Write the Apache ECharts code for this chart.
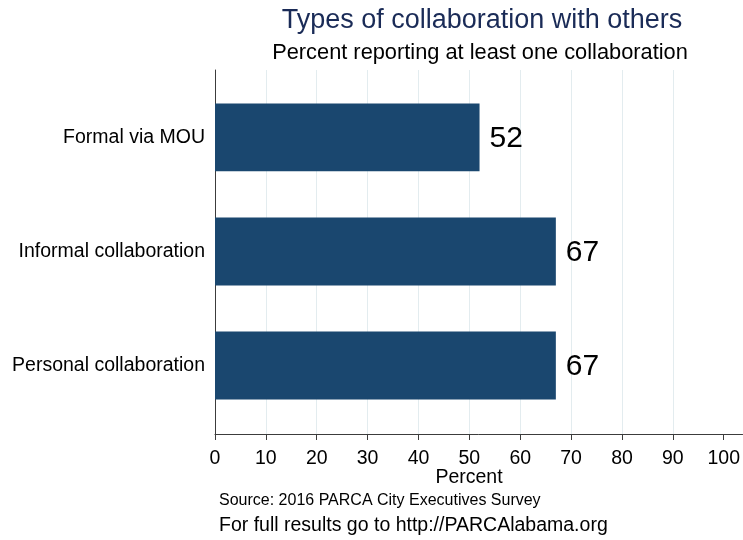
<!DOCTYPE html>
<html>
<head>
<meta charset="utf-8">
<script src="https://cdn.jsdelivr.net/npm/echarts@6/dist/echarts.min.js"></script>
<style>
  html, body { margin: 0; padding: 0; background: #fff; }
  #chart { width: 743px; height: 540px; }
</style>
</head>
<body>
<div id="chart"></div>
<script>
// Collaboration types and the share of respondents reporting each
const categories = ['Formal via MOU', 'Informal collaboration', 'Personal collaboration'];
const percents = [52, 67, 67];
const xTicks = [0, 10, 20, 30, 40, 50, 60, 70, 80, 90, 100];
const categoryPositions = [0, 1, 2];

const FONT = '"Liberation Sans", Arial, sans-serif';
const BAR_COLOR = '#1a476f';
const AXIS_COLOR = '#3c3c3c';

const chart = echarts.init(document.getElementById('chart'), null, { renderer: 'canvas' });

const barData = percents.map((v, i) => [v, categoryPositions[i]]);

chart.setOption({
  animation: false,
  backgroundColor: '#ffffff',
  grid: { left: 215, right: 0, top: 70, bottom: 106 },
  xAxis: {
    type: 'value',
    position: 'bottom',
    min: 0,
    max: 103.7,
    axisLine: { show: true, onZero: false, lineStyle: { color: AXIS_COLOR, width: 1 } },
    axisTick: { show: true, customValues: xTicks, length: 6, lineStyle: { color: AXIS_COLOR } },
    axisLabel: {
      customValues: xTicks,
      color: '#000',
      fontFamily: FONT,
      fontSize: 19.5,
      margin: 15
    },
    splitLine: {
      show: true,
      showMinLine: false,
      showMaxLine: false,
      lineStyle: { color: '#e3ecef', width: 1 }
    }
  },
  yAxis: {
    type: 'value',
    position: 'left',
    inverse: true,
    min: -0.59,
    max: 2.6,
    axisLine: { show: true, onZero: false, lineStyle: { color: AXIS_COLOR, width: 1 } },
    axisTick: { show: false },
    splitLine: { show: false },
    axisLabel: {
      customValues: categoryPositions,
      formatter: v => categories[Math.round(v)],
      color: '#000',
      fontFamily: FONT,
      fontSize: 19.5,
      margin: 10
    }
  },
  series: [{
    type: 'custom',
    data: barData,
    encode: { x: 0, y: 1 },
    renderItem: function (params, api) {
      const val = api.value(0);
      const pos = api.value(1);
      const start = api.coord([0, pos]);
      const end = api.coord([val, pos]);
      const h = api.size([0, 1])[1] * 0.595;
      return {
        type: 'group',
        children: [
          {
            type: 'rect',
            shape: { x: start[0], y: start[1] - h / 2, width: end[0] - start[0], height: h },
            style: { fill: BAR_COLOR }
          },
          {
            type: 'text',
            x: end[0] + 10,
            y: end[1] + 1,
            style: {
              text: String(val),
              fill: '#000',
              font: '30px ' + FONT,
              textAlign: 'left',
              textVerticalAlign: 'middle'
            }
          }
        ]
      };
    }
  }],
  graphic: [
    {
      type: 'text', x: 482, y: 21,
      style: { text: 'Types of collaboration with others', fill: '#1a2b57',
               font: '27px ' + FONT, textAlign: 'center', textVerticalAlign: 'middle' }
    },
    {
      type: 'text', x: 480, y: 53,
      style: { text: 'Percent reporting at least one collaboration', fill: '#000',
               font: '21.8px ' + FONT, textAlign: 'center', textVerticalAlign: 'middle' }
    },
    {
      type: 'text', x: 469, y: 478,
      style: { text: 'Percent', fill: '#000',
               font: '19.5px ' + FONT, textAlign: 'center', textVerticalAlign: 'middle' }
    },
    {
      type: 'text', x: 219, y: 501,
      style: { text: 'Source: 2016 PARCA City Executives Survey', fill: '#000',
               font: '16px ' + FONT, textAlign: 'left', textVerticalAlign: 'middle' }
    },
    {
      type: 'text', x: 219, y: 526,
      style: { text: 'For full results go to http://PARCAlabama.org', fill: '#000',
               font: '19.5px ' + FONT, textAlign: 'left', textVerticalAlign: 'middle' }
    }
  ]
});
</script>
</body>
</html>
